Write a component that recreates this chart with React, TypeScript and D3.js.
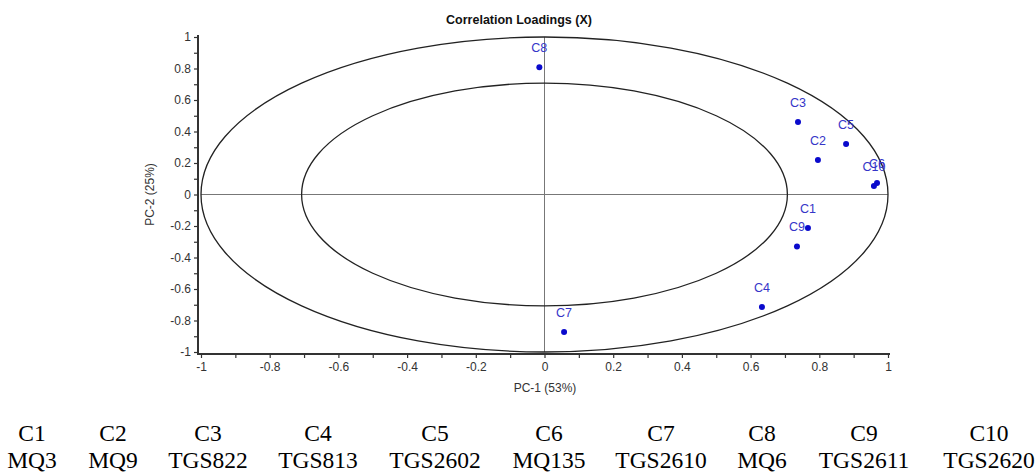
import React, { useEffect, useRef } from "react";
import * as d3 from "d3";

// loadings
const labels = ["C1", "C2", "C3", "C4", "C5", "C6", "C7", "C8", "C9", "C10"];
const pc1 = [0.767, 0.796, 0.738, 0.633, 0.878, 0.968, 0.057, -0.015, 0.735, 0.959];
const pc2 = [-0.213, 0.219, 0.46, -0.714, 0.321, 0.073, -0.873, 0.808, -0.33, 0.054];
const sensors = ["MQ3", "MQ9", "TGS822", "TGS813", "TGS2602", "MQ135", "TGS2610", "MQ6", "TGS2611", "TGS2620"];
const tableX = [32, 113, 208, 318, 435, 549, 661, 762, 864, 989];
const tickValues = d3.range(-10, 11).map(d => d / 10);

const W = 1036;
const H = 474;
const plot = { left: 201, right: 888, top: 37, bottom: 352 };
const sansFont = "'Liberation Sans', Arial, sans-serif";
const serifFont = "'Liberation Serif', 'Times New Roman', serif";

const fmt = (d: number) => {
    const k = Math.round(d * 10);
    if (k % 2 !== 0) return "";
    return String(+(k / 10).toFixed(1));
};

export default function App() {
    const xAxisRef = useRef<SVGGElement>(null);
    const yAxisRef = useRef<SVGGElement>(null);

    const xScale = d3.scaleLinear().domain([-1, 1]).range([plot.left, plot.right]);
    const yScale = d3.scaleLinear().domain([-1, 1]).range([plot.bottom, plot.top]);
    const cx = xScale(0);
    const cy = yScale(0);
    const inner = Math.SQRT1_2;

    useEffect(() => {
        const xAxis = d3
            .axisBottom(xScale)
            .tickValues(tickValues)
            .tickSize(4)
            .tickSizeOuter(0)
            .tickPadding(4)
            .tickFormat(d => fmt(+d));
        const yAxis = d3
            .axisLeft(yScale)
            .tickValues(tickValues)
            .tickSize(4)
            .tickSizeOuter(0)
            .tickPadding(3)
            .tickFormat(d => fmt(+d));
        [d3.select(xAxisRef.current!).call(xAxis), d3.select(yAxisRef.current!).call(yAxis)].forEach(g => {
            g.select(".domain").remove();
            g.selectAll(".tick line").attr("stroke", "#333").attr("stroke-width", 1.2);
            g.selectAll(".tick text")
                .attr("fill", "#333")
                .style("font-family", sansFont)
                .style("font-size", "12px");
        });
    }, []);

    return (
        <svg width={W} height={H} style={{ position: "absolute", left: 0, top: 0, background: "#fff" }}>
            <text x={519} y={24} textAnchor="middle" fontFamily={sansFont} fontWeight="bold" fontSize={12.5} fill="#111">
                Correlation Loadings (X)
            </text>

            {/* crosshair */}
            <line x1={plot.left} x2={plot.right} y1={cy} y2={cy} stroke="#777" strokeWidth={1} />
            <line x1={cx} x2={cx} y1={plot.top} y2={plot.bottom} stroke="#777" strokeWidth={1} />

            {/* 100% and 50% explained variance ellipses */}
            <ellipse cx={cx} cy={cy} rx={xScale(1) - cx} ry={cy - yScale(1)} fill="none" stroke="#222" strokeWidth={1.3} />
            <ellipse
                cx={cx}
                cy={cy}
                rx={xScale(inner) - cx}
                ry={cy - yScale(inner)}
                fill="none"
                stroke="#222"
                strokeWidth={1.3}
            />

            {/* axes */}
            <line x1={198} x2={198} y1={plot.top - 2} y2={plot.bottom + 3} stroke="#333" strokeWidth={2} />
            <line x1={197} x2={plot.right + 2} y1={plot.bottom + 2} y2={plot.bottom + 2} stroke="#333" strokeWidth={2} />
            <g ref={xAxisRef} transform={`translate(0,${plot.bottom + 2})`} />
            <g ref={yAxisRef} transform={`translate(198,0)`} />

            <text x={545} y={392} textAnchor="middle" fontFamily={sansFont} fontSize={12} fill="#333">
                PC-1 (53%)
            </text>
            <text
                transform={`translate(154,${cy}) rotate(-90)`}
                textAnchor="middle"
                fontFamily={sansFont}
                fontSize={12}
                fill="#333"
            >
                PC-2 (25%)
            </text>

            {labels.map((name, i) => (
                <g key={name}>
                    <circle cx={xScale(pc1[i])} cy={yScale(pc2[i])} r={3} fill="#0a0acc" />
                    <text
                        x={xScale(pc1[i])}
                        y={yScale(pc2[i]) - 15}
                        textAnchor="middle"
                        fontFamily={sansFont}
                        fontSize={12.5}
                        fill="#3535c8"
                    >
                        {name}
                    </text>
                </g>
            ))}

            {/* sensor key under the chart */}
            {labels.map((name, i) => (
                <g key={"t" + name} fontFamily={serifFont} fontSize={23.5} fill="#000" textAnchor="middle">
                    <text x={tableX[i]} y={441}>
                        {name}
                    </text>
                    <text x={tableX[i]} y={468}>
                        {sensors[i]}
                    </text>
                </g>
            ))}
        </svg>
    );
}
